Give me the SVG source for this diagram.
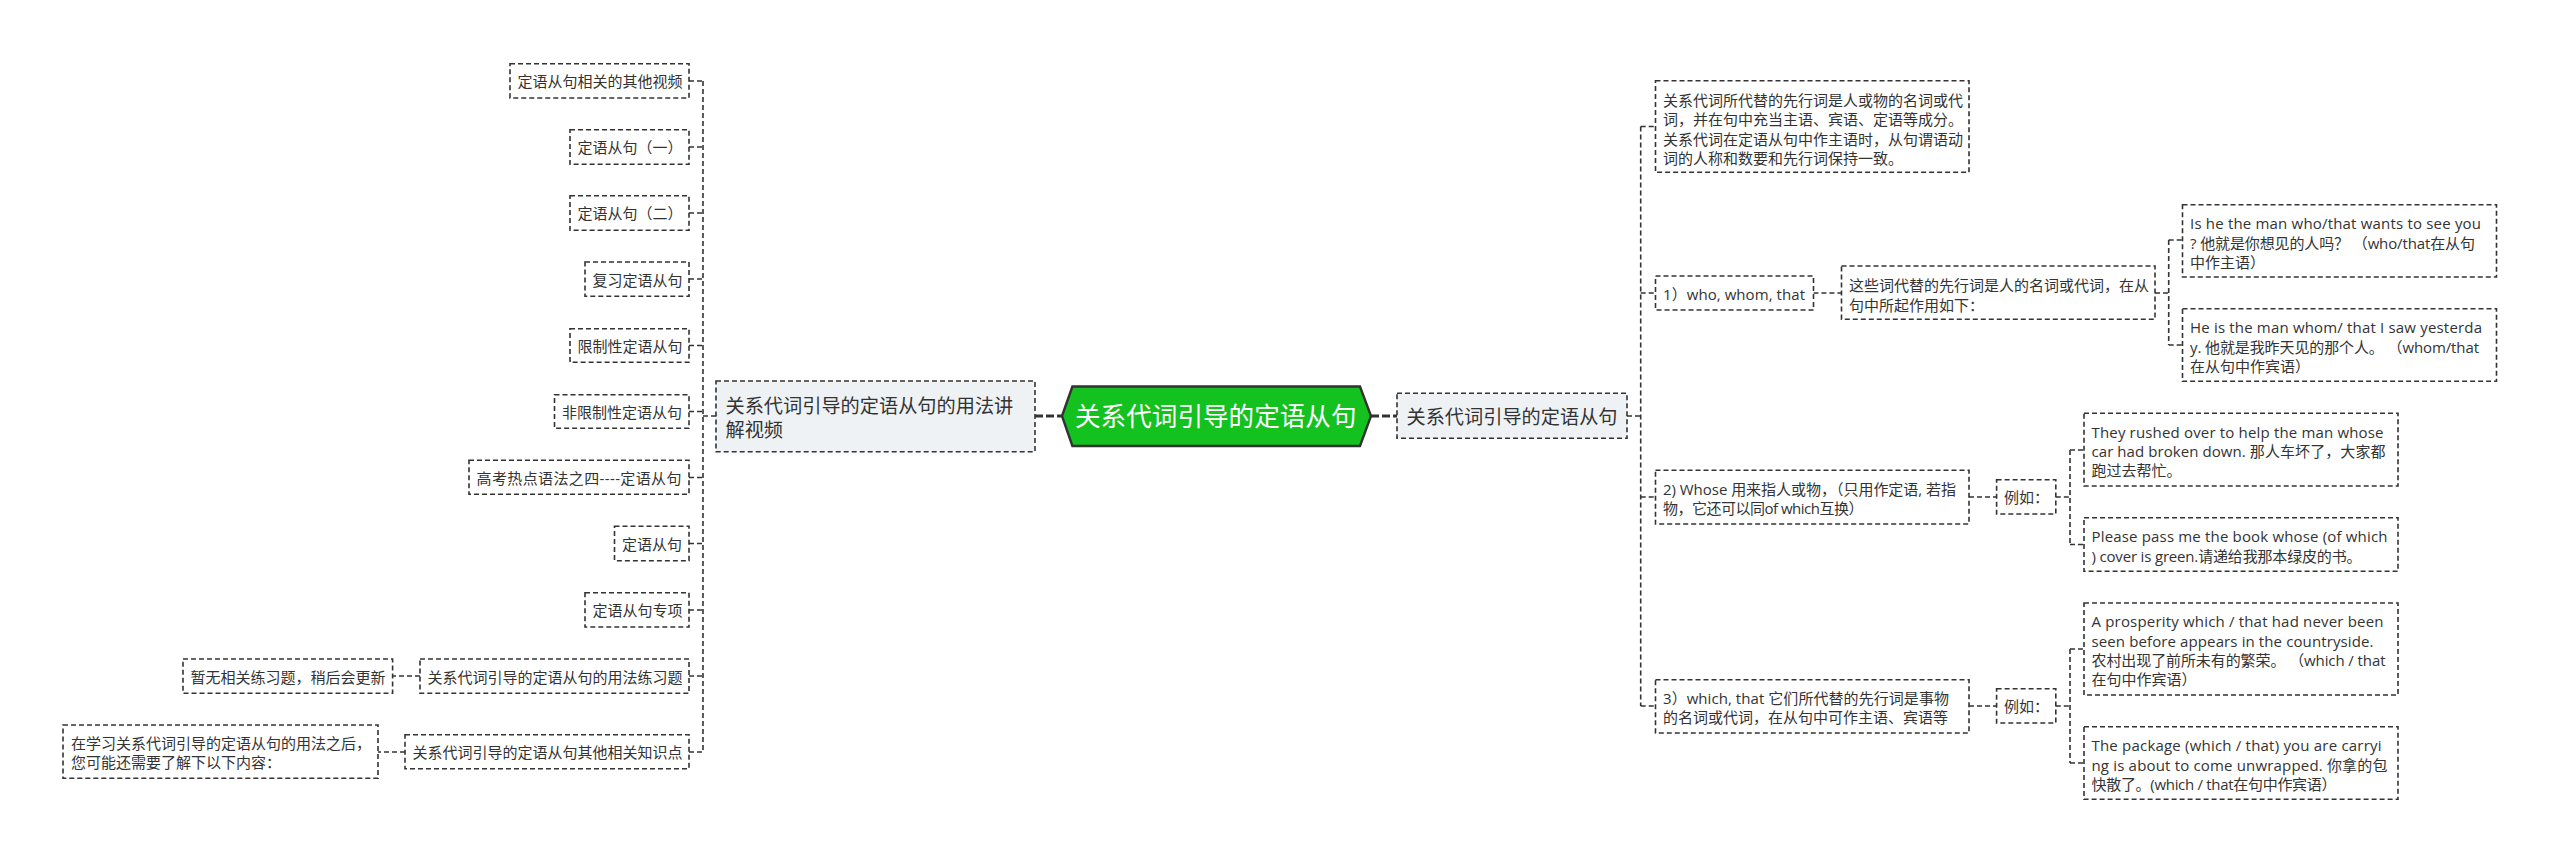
<svg xmlns="http://www.w3.org/2000/svg" width="2560" height="863" viewBox="0 0 2560 863">
<style>
text{font-family:"Open Sans","Noto Sans CJK SC",sans-serif;font-size:15px;fill:#333;transform:translateY(1.2px)}
.b{fill:#fff;stroke:#333;stroke-width:1.6;stroke-dasharray:5 3}
.m{fill:#eef2f5}
.big{font-size:19.2px;transform:translateY(.5px)}
.root{font-size:25.6px;fill:#fff}
.c{fill:none;stroke:#333;stroke-width:1.6;stroke-dasharray:5 3}
.t{fill:none;stroke:#333;stroke-width:2.8;stroke-dasharray:8 3}
</style>
<rect width="2560" height="863" fill="#fff"/>
<g id="connectors">
<path class="t" d="M1035 416H1062M1371 416H1397"/>
<path class="c" d="M716 416H703M703 81V752M689 81H703M689 147H703M689 213H703M689 279H703M689 345.500H703M689 411.500H703M689 477.500H703M689 543.500H703M689 610H703M689 676H703M689 752H703"/>
<path class="c" d="M420 676H392.600M405 752H378"/>
<path class="c" d="M1627 416H1640.700M1640.700 126.500V706M1640.700 126.500H1655.500M1640.700 293H1655.500M1640.700 497H1655.500M1640.700 706H1655.500"/>
<path class="c" d="M1813.400 293H1841.500M2155 293H2168.700M2168.700 240V345M2168.700 240H2182.500M2168.700 345H2182.500"/>
<path class="c" d="M1969 497H1996.600M2055.800 497H2070M2070 450V544.500M2070 450H2084M2070 544.500H2084"/>
<path class="c" d="M1969 706H1996.600M2055.800 706H2070M2070 649V763M2070 649H2084M2070 763H2084"/>
</g>
<g id="root"><path d="M1062 416L1072.400 386.500H1360L1371 416L1360 446H1072.400Z" fill="#13c11f" stroke="#333" stroke-width="2.4"/><text class="root" x="1075" y="425">关系代词引导的定语从句</text></g>
<g id="main-left"><rect class="b m" x="716" y="381" width="319" height="70.700"/><text class="big" x="725.500" y="412">关系代词引导的定语从句的用法讲</text><text class="big" x="725.500" y="436">解视频</text></g>
<g id="main-right"><rect class="b m" x="1397" y="393.300" width="230" height="45"/><text class="big" x="1406.500" y="423">关系代词引导的定语从句</text></g>
<g id="l1"><rect class="b" x="510" y="63.700" width="179" height="34.300"/><text x="517.500" y="86">定语从句相关的其他视频</text></g>
<g id="l2"><rect class="b" x="570" y="129.700" width="119" height="34.600"/><text x="577.500" y="152">定语从句（一）</text></g>
<g id="l3"><rect class="b" x="570" y="195.700" width="119" height="34.600"/><text x="577.500" y="218">定语从句（二）</text></g>
<g id="l4"><rect class="b" x="585" y="262" width="104" height="34.300"/><text x="592.500" y="284.500">复习定语从句</text></g>
<g id="l5"><rect class="b" x="570" y="328.700" width="119" height="33.600"/><text x="577.500" y="351">限制性定语从句</text></g>
<g id="l6"><rect class="b" x="554.500" y="394.700" width="134.500" height="33.600"/><text x="562" y="417">非限制性定语从句</text></g>
<g id="l7"><rect class="b" x="469" y="460.300" width="220" height="34"/><text x="476.500" y="483" textLength="205">高考热点语法之四----定语从句</text></g>
<g id="l8"><rect class="b" x="614.500" y="526.300" width="74.500" height="34.400"/><text x="622" y="549">定语从句</text></g>
<g id="l9"><rect class="b" x="585" y="592.700" width="104" height="34.300"/><text x="592.500" y="615">定语从句专项</text></g>
<g id="l10"><rect class="b" x="420" y="659" width="269" height="34.300"/><text x="427.500" y="681.500">关系代词引导的定语从句的用法练习题</text></g>
<g id="l10a"><rect class="b" x="183" y="659" width="209.600" height="34.300"/><text x="190.500" y="681.500">暂无相关练习题，稍后会更新</text></g>
<g id="l11"><rect class="b" x="405" y="734.700" width="284" height="34"/><text x="412.500" y="757">关系代词引导的定语从句其他相关知识点</text></g>
<g id="l11a"><rect class="b" x="63" y="725" width="315" height="53.300"/><text x="71" y="748">在学习关系代词引导的定语从句的用法之后，</text><text x="71" y="767">您可能还需要了解下以下内容：</text></g>
<g id="r1"><rect class="b" x="1655.500" y="80.700" width="313.500" height="91.600"/><text x="1663" y="104.500">关系代词所代替的先行词是人或物的名词或代</text><text x="1663" y="124">词，并在句中充当主语、宾语、定语等成分。</text><text x="1663" y="143.500">关系代词在定语从句中作主语时，从句谓语动</text><text x="1663" y="162.500">词的人称和数要和先行词保持一致。</text></g>
<g id="r2"><rect class="b" x="1655.500" y="276" width="158" height="34"/><text x="1663" y="298.500" textLength="142">1）who, whom, that</text></g>
<g id="r2a"><rect class="b" x="1841.500" y="266" width="313.500" height="53.300"/><text x="1849" y="290">这些词代替的先行词是人的名词或代词，在从</text><text x="1849" y="309.500">句中所起作用如下：</text></g>
<g id="r2a1"><rect class="b" x="2182.500" y="204.700" width="314" height="72.300"/><text x="2190" y="228" textLength="291">Is he the man who/that wants to see you</text><text x="2190" y="247.500" textLength="285">? 他就是你想见的人吗？ （who/that在从句</text><text x="2190" y="266.500">中作主语）</text></g>
<g id="r2a2"><rect class="b" x="2182.500" y="308.700" width="314" height="72.600"/><text x="2190" y="332" textLength="292">He is the man whom/ that I saw yesterda</text><text x="2190" y="351.500" textLength="289">y. 他就是我昨天见的那个人。 （whom/that</text><text x="2190" y="370.500">在从句中作宾语）</text></g>
<g id="r3"><rect class="b" x="1655.500" y="470.300" width="313.500" height="53.700"/><text x="1663" y="493.500" textLength="293">2) Whose 用来指人或物，（只用作定语, 若指</text><text x="1663" y="512.500" textLength="200.500">物，它还可以同of which互换）</text></g>
<g id="r3a"><rect class="b" x="1996.600" y="479.700" width="59.200" height="34.300"/><text x="2004" y="502">例如：</text></g>
<g id="r3a1"><rect class="b" x="2084" y="413.300" width="314" height="72.700"/><text x="2091.500" y="436.500" textLength="292">They rushed over to help the man whose</text><text x="2091.500" y="456" textLength="294">car had broken down. 那人车坏了，大家都</text><text x="2091.500" y="475">跑过去帮忙。</text></g>
<g id="r3a2"><rect class="b" x="2084" y="517.700" width="314" height="53.600"/><text x="2091.500" y="541" textLength="296">Please pass me the book whose (of which</text><text x="2091.500" y="560.500" textLength="270">) cover is green.请递给我那本绿皮的书。</text></g>
<g id="r4"><rect class="b" x="1655.500" y="679.700" width="313.500" height="53.300"/><text x="1663" y="702.500" textLength="286">3）which, that 它们所代替的先行词是事物</text><text x="1663" y="722">的名词或代词，在从句中可作主语、宾语等</text></g>
<g id="r4a"><rect class="b" x="1996.600" y="688.700" width="59.200" height="34.300"/><text x="2004" y="711">例如：</text></g>
<g id="r4a1"><rect class="b" x="2084" y="603" width="314" height="92"/><text x="2091.500" y="626" textLength="292">A prosperity which / that had never been</text><text x="2091.500" y="645.500" textLength="282">seen before appears in the countryside.</text><text x="2091.500" y="665" textLength="294">农村出现了前所未有的繁荣。 （which / that</text><text x="2091.500" y="684">在句中作宾语）</text></g>
<g id="r4a2"><rect class="b" x="2084" y="726.700" width="314" height="72.600"/><text x="2091.500" y="750" textLength="290">The package (which / that) you are carryi</text><text x="2091.500" y="769.500" textLength="296">ng is about to come unwrapped. 你拿的包</text><text x="2091.500" y="788.500" textLength="245">快散了。(which / that在句中作宾语）</text></g>
</svg>
